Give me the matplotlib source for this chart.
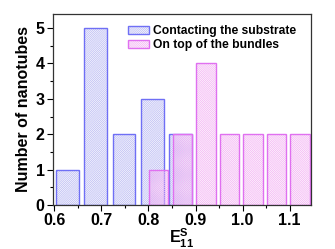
import numpy as np
import matplotlib
matplotlib.use('Agg')
from matplotlib import pyplot as plt
from matplotlib.patches import Patch
from matplotlib.legend_handler import HandlerTuple

plt.rcParams['font.family'] = ['Liberation Sans', 'DejaVu Sans']
plt.rcParams['font.weight'] = 'bold'
plt.rcParams['mathtext.fontset'] = 'custom'
plt.rcParams['mathtext.rm'] = 'Liberation Sans:bold'
plt.rcParams['mathtext.bf'] = 'Liberation Sans:bold'
plt.rcParams['mathtext.it'] = 'Liberation Sans:bold'
plt.rcParams['hatch.linewidth'] = 0.6

# contacting the substrate
sub_x = [0.628, 0.688, 0.748, 0.808, 0.868]
sub_n = [1, 5, 2, 3, 2]
# on top of the bundles
top_x = [0.822, 0.872, 0.922, 0.972, 1.022, 1.072, 1.122]
top_n = [1, 2, 4, 2, 2, 2, 2]

blue_edge = '#6f6ff5'
blue_hatch = '#c0c0f4'
mag_edge = '#e070f0'
mag_hatch = '#f4b8f4'
sub_hatch = '/' * 16
top_hatch = '\\' * 16

fig = plt.figure(figsize=(3.35, 2.49), dpi=100)
ax = fig.add_axes([0.158, 0.177, 0.77, 0.767])

ax.bar(sub_x, sub_n, width=0.048, facecolor='none', edgecolor=blue_hatch,
       hatch=sub_hatch, linewidth=0)
ax.bar(sub_x, sub_n, width=0.048, facecolor='none', edgecolor=blue_edge, linewidth=1.0)
ax.bar(top_x, top_n, width=0.041, facecolor='none', edgecolor=mag_hatch,
       hatch=top_hatch, linewidth=0)
ax.bar(top_x, top_n, width=0.041, facecolor='none', edgecolor=mag_edge, linewidth=1.0)

ax.set_xlim(0.597, 1.145)
ax.set_ylim(0, 5.4)
ax.set_xticks(np.arange(0.6, 1.15, 0.1))
ax.set_xticks(np.arange(0.65, 1.15, 0.1), minor=True)
ax.set_yticks(range(6))
ax.set_yticks(np.arange(0.5, 5.5, 1), minor=True)
ax.set_xticklabels(['0.6', '0.7', '0.8', '0.9', '1.0', '1.1'])
ax.tick_params(axis='both', which='major', direction='out', length=4, width=0.8,
               labelsize=11.5, pad=2)
ax.tick_params(axis='both', which='minor', direction='out', length=2, width=0.8)
for lab in ax.get_xticklabels() + ax.get_yticklabels():
    lab.set_fontweight('bold')
for s in ax.spines.values():
    s.set_linewidth(0.9)
    s.set_color('#333333')

ax.set_ylabel('Number of nanotubes', fontsize=11.5, fontweight='bold', labelpad=3)
ax.set_xlabel(r'$\mathbf{E}_{\mathbf{11}}^{\mathbf{S}}$', fontsize=11.5, labelpad=-1)

handles = [
    (Patch(facecolor='none', edgecolor=blue_hatch, hatch=sub_hatch, linewidth=0),
     Patch(facecolor='none', edgecolor=blue_edge, linewidth=1.0)),
    (Patch(facecolor='none', edgecolor=mag_hatch, hatch=top_hatch, linewidth=0),
     Patch(facecolor='none', edgecolor=mag_edge, linewidth=1.0)),
]
ax.legend(handles, ['Contacting the substrate', 'On top of the bundles'],
          handler_map={tuple: HandlerTuple(ndivide=1, pad=0)},
          loc='upper right', bbox_to_anchor=(0.975, 0.985), frameon=False,
          prop={'size': 8.7, 'weight': 'bold'}, handlelength=1.75, handleheight=0.7,
          handletextpad=0.3, labelspacing=0.15, borderaxespad=0.3)

fig.savefig('out.png', dpi=100)
